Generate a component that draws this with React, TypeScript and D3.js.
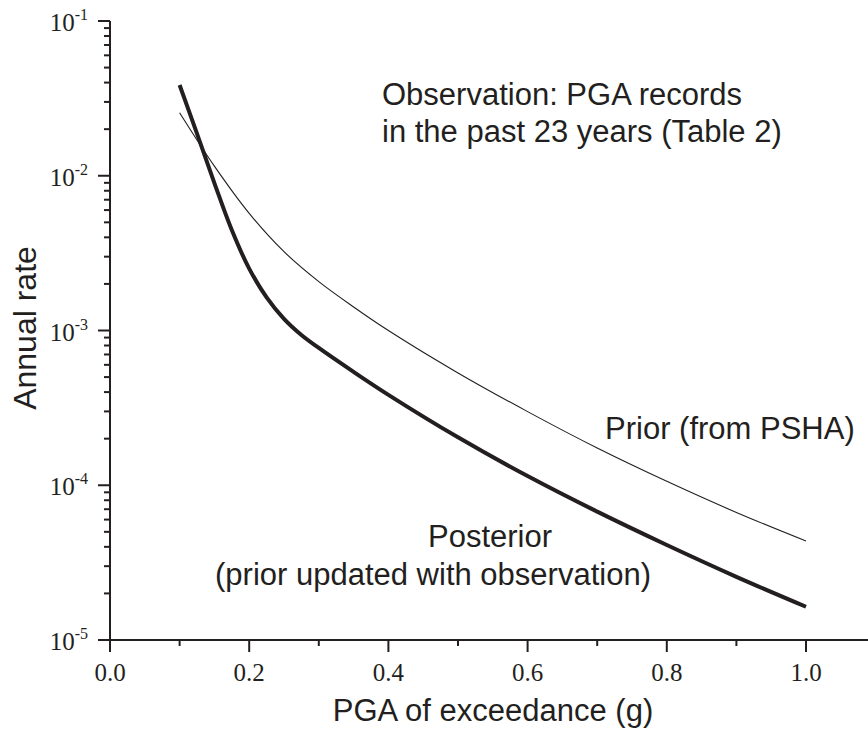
import React from "react";
import * as d3 from "d3";

// Annual rate of exceedance vs PGA (g)
const priorPga = [0.1, 0.15, 0.2, 0.25, 0.3, 0.35, 0.4, 0.5, 0.6, 0.7, 0.8, 0.9, 1.0];
const priorRate = [0.02553, 0.01153, 5.71e-3, 3.23e-3, 2.07e-3, 1.42e-3, 1.0e-3, 5.32e-4, 2.99e-4, 1.74e-4, 1.06e-4, 6.67e-5, 4.36e-5];

const posteriorPga = [0.1, 0.125, 0.15, 0.175, 0.2, 0.225, 0.25, 0.275, 0.3, 0.35, 0.4, 0.5, 0.6, 0.7, 0.8, 0.9, 1.0];
const posteriorRate = [
  0.0386, 0.01871, 8.97e-3, 4.46e-3, 2.51e-3, 1.637e-3, 1.189e-3, 9.35e-4, 7.71e-4, 5.4e-4, 3.84e-4, 2.04e-4,
  1.146e-4, 6.75e-5, 4.11e-5, 2.56e-5, 1.64e-5,
];

const xTicks = [0, 0.2, 0.4, 0.6, 0.8, 1.0];
const xMinorTicks = [0.1, 0.3, 0.5, 0.7, 0.9];
const yExponents = [-1, -2, -3, -4, -5];

const W = 868;
const H = 737;
const INK = "#231f20";
const SANS = "'Liberation Sans', Arial, Helvetica, sans-serif";
const SERIF = "'Liberation Serif', 'Times New Roman', serif";

export default function App() {
  const x = d3.scaleLinear().domain([0, 1.1]).range([110, 875.6]);
  const y = d3.scaleLog().domain([1e-5, 1e-1]).range([640, 21]);

  const line = d3
    .line<[number, number]>()
    .x((d) => x(d[0]))
    .y((d) => y(d[1]))
    .curve(d3.curveCatmullRom.alpha(0.5));

  const priorPts = priorPga.map((g, i) => [g, priorRate[i]] as [number, number]);
  const postPts = posteriorPga.map((g, i) => [g, posteriorRate[i]] as [number, number]);

  const yMinor: number[] = [];
  for (let e = -5; e < -1; e++) {
    for (let k = 2; k <= 9; k++) yMinor.push(k * Math.pow(10, e));
  }

  const x0 = x(0);
  const yb = y(1e-5);

  return (
    <svg
      width={W}
      height={H}
      viewBox={`0 0 ${W} ${H}`}
      style={{ position: "absolute", left: 0, top: 0, background: "#fff" }}
    >
      <rect x={0} y={0} width={W} height={H} fill="#fff" />

      {/* axes */}
      <line x1={x0} x2={x0} y1={y(1e-1)} y2={yb + 12} stroke={INK} strokeWidth={2} />
      <line x1={x0 - 12} x2={W} y1={yb} y2={yb} stroke={INK} strokeWidth={2} />

      {/* y ticks */}
      {yExponents.map((e) => (
        <g key={`ym${e}`}>
          <line x1={x0 - 12} x2={x0} y1={y(Math.pow(10, e))} y2={y(Math.pow(10, e))} stroke={INK} strokeWidth={2} />
          <text
            x={88}
            y={y(Math.pow(10, e)) + 10}
            textAnchor="end"
            fontFamily={SERIF}
            fontSize={25}
            fill={INK}
          >
            <tspan>10</tspan>
            <tspan dy={-11} fontSize={16}>{`-${-e}`}</tspan>
          </text>
        </g>
      ))}
      {yMinor.map((v, i) => (
        <line key={`yn${i}`} x1={x0 - 6} x2={x0} y1={y(v)} y2={y(v)} stroke={INK} strokeWidth={2} />
      ))}

      {/* x ticks */}
      {xTicks.map((t) => (
        <g key={`xm${t}`}>
          <line x1={x(t)} x2={x(t)} y1={yb} y2={yb + 12} stroke={INK} strokeWidth={2} />
          <text x={x(t)} y={681} textAnchor="middle" fontFamily={SERIF} fontSize={25} fill={INK}>
            {t.toFixed(1)}
          </text>
        </g>
      ))}
      {xMinorTicks.map((t) => (
        <line key={`xn${t}`} x1={x(t)} x2={x(t)} y1={yb} y2={yb + 6} stroke={INK} strokeWidth={2} />
      ))}

      {/* curves */}
      <path d={line(priorPts) || ""} fill="none" stroke={INK} strokeWidth={1.1} />
      <path d={line(postPts) || ""} fill="none" stroke={INK} strokeWidth={4} />

      {/* axis titles */}
      <text x={493} y={721} textAnchor="middle" fontFamily={SANS} fontSize={31} fill={INK}>
        PGA of exceedance (g)
      </text>
      <text
        transform={`translate(36,328) rotate(-90)`}
        textAnchor="middle"
        fontFamily={SANS}
        fontSize={32}
        fill={INK}
      >
        Annual rate
      </text>

      {/* annotations */}
      <text fontFamily={SANS} fontSize={31} fill={INK}>
        <tspan x={382} y={105}>Observation: PGA records</tspan>
        <tspan x={382} y={142}>in the past 23 years (Table 2)</tspan>
      </text>
      <text x={605} y={439} fontFamily={SANS} fontSize={31} fill={INK}>
        Prior (from PSHA)
      </text>
      <text fontFamily={SANS} fontSize={31} fill={INK}>
        <tspan x={428} y={547}>Posterior</tspan>
        <tspan x={215} y={585}>(prior updated with observation)</tspan>
      </text>
    </svg>
  );
}
